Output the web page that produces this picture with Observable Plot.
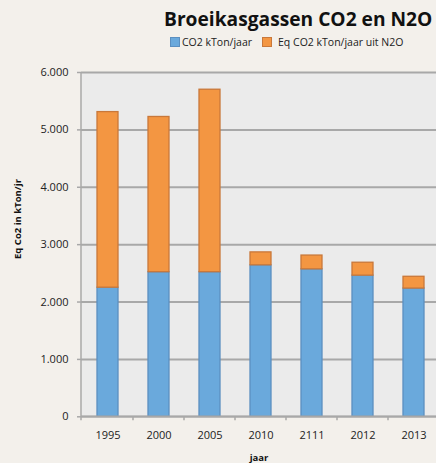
<!DOCTYPE html>
<html><head><meta charset="utf-8">
<script src="https://cdn.jsdelivr.net/npm/d3@7"></script>
<script src="https://cdn.jsdelivr.net/npm/@observablehq/plot@0.6"></script>
<style>
html,body{margin:0;padding:0;background:#f3f0eb;}
#wrap{position:relative;width:436px;height:463px;overflow:hidden;font-family:"Open Sans",sans-serif;}
#title{position:absolute;left:164px;top:5px;font-weight:bold;font-size:19.2px;color:#111;white-space:nowrap;}
#legend{position:absolute;left:170px;top:35px;font-size:10.5px;color:#222;white-space:nowrap;display:flex;align-items:center;}
.sw{display:inline-block;width:8px;height:8px;margin-right:3px;}
#ylab{position:absolute;left:17px;top:219px;font-weight:bold;font-size:9.5px;color:#111;white-space:nowrap;transform:translate(-50%,-50%) rotate(-90deg);transform-origin:center;}
#wrap svg{position:absolute;left:0;top:0;}
</style></head>
<body><div id="wrap"></div>
<script>
const years = ["1995","2000","2005","2010","2111","2012","2013"];
const co2 = [2250, 2520, 2520, 2640, 2570, 2460, 2235];
const n2o = [3060, 2705, 3180, 225, 240, 225, 205];
const yTicks = [0, 1000, 2000, 3000, 4000, 5000, 6000];
const seriesNames = ["CO2 kTon/jaar", "Eq CO2 kTon/jaar uit N2O"];
const colors = ["#6aa9dc", "#f39642"];
const strokes = ["#5b8fc0", "#c9783a"];

const table = years.map((y, i) => ({year: y, co2: co2[i], n2o: n2o[i], total: co2[i] + n2o[i]}));
const fmt = d3.formatLocale({decimal: ",", thousands: ".", grouping: [3], currency: ["", ""]}).format(",");

const grey = "#a8a8a8";
const pin = 0.59;

const decor = (index, scales, values, dims) => {
  const g = d3.create("svg:g");
  const x = scales.x;
  const step = (x(years[1]) - x(years[0]));
  let bw = x.bandwidth;
  if (typeof bw === "function") bw = bw();
  if (!(bw > 0)) bw = step * (1 - pin);
  const yb = dims.height - dims.marginBottom;
  const xl = dims.marginLeft;
  g.append("line").attr("x1", xl).attr("x2", dims.width).attr("y1", yb).attr("y2", yb)
    .attr("stroke", grey).attr("stroke-width", 1.5);
  g.append("line").attr("x1", xl).attr("x2", xl).attr("y1", dims.marginTop).attr("y2", yb + 4)
    .attr("stroke", grey).attr("stroke-width", 1.5);
  for (let i = 1; i < years.length; i++) {
    const bx = x(years[i]) + bw / 2 - step / 2;
    g.append("line").attr("x1", bx).attr("x2", bx).attr("y1", yb).attr("y2", yb + 4)
      .attr("stroke", grey).attr("stroke-width", 1.5);
  }
  return g.node();
};

const chart = Plot.plot({
  width: 436,
  height: 463,
  marginTop: 72,
  marginBottom: 46.7,
  marginLeft: 81,
  marginRight: 0,
  style: {background: "transparent", fontFamily: "Open Sans, sans-serif", fontSize: "11px", color: "#222"},
  x: {domain: years, range: [81, 440], paddingInner: pin, paddingOuter: pin / 2, label: null},
  y: {domain: [0, 6000], ticks: yTicks, label: null},
  marks: [
    Plot.frame({fill: "#ebebeb", stroke: "none"}),
    Plot.gridY(yTicks, {stroke: grey, strokeOpacity: 1, strokeWidth: 2}),
    Plot.barY(table, {x: "year", y1: 0, y2: "co2", fill: colors[0], stroke: strokes[0], strokeWidth: 1.3}),
    Plot.barY(table, {x: "year", y1: "co2", y2: "total", fill: colors[1], stroke: strokes[1], strokeWidth: 1.3}),
    decor,
    Plot.axisY(yTicks, {tickFormat: fmt, tickSize: 4, tickPadding: 9, stroke: grey, strokeWidth: 1.5, fontSize: 11, fill: "#222", label: null}),
    Plot.axisX({tickSize: 0, tickPadding: 14, fontSize: 11, fill: "#222", label: null}),
    Plot.text(["jaar"], {frameAnchor: "bottom", dy: 44, text: d => d, fontWeight: "bold", fontSize: 9.5, fill: "#111"})
  ]
});

const wrap = document.getElementById("wrap");
wrap.appendChild(chart);
const t = document.createElement("div"); t.id = "title"; t.textContent = "Broeikasgassen CO2 en N2O"; wrap.appendChild(t);
const lg = document.createElement("div"); lg.id = "legend";
seriesNames.forEach((n, i) => {
  const s = document.createElement("span"); s.className = "sw";
  s.style.background = colors[i]; s.style.border = "1px solid " + strokes[i];
  if (i > 0) s.style.marginLeft = "10px";
  s.style.marginRight = i > 0 ? "6px" : "2px";
  lg.appendChild(s);
  const tx = document.createElement("span"); tx.textContent = n; lg.appendChild(tx);
});
wrap.appendChild(lg);
const yl = document.createElement("div"); yl.id = "ylab"; yl.textContent = "Eq Co2 in kTon/jr"; wrap.appendChild(yl);
</script></body></html>
